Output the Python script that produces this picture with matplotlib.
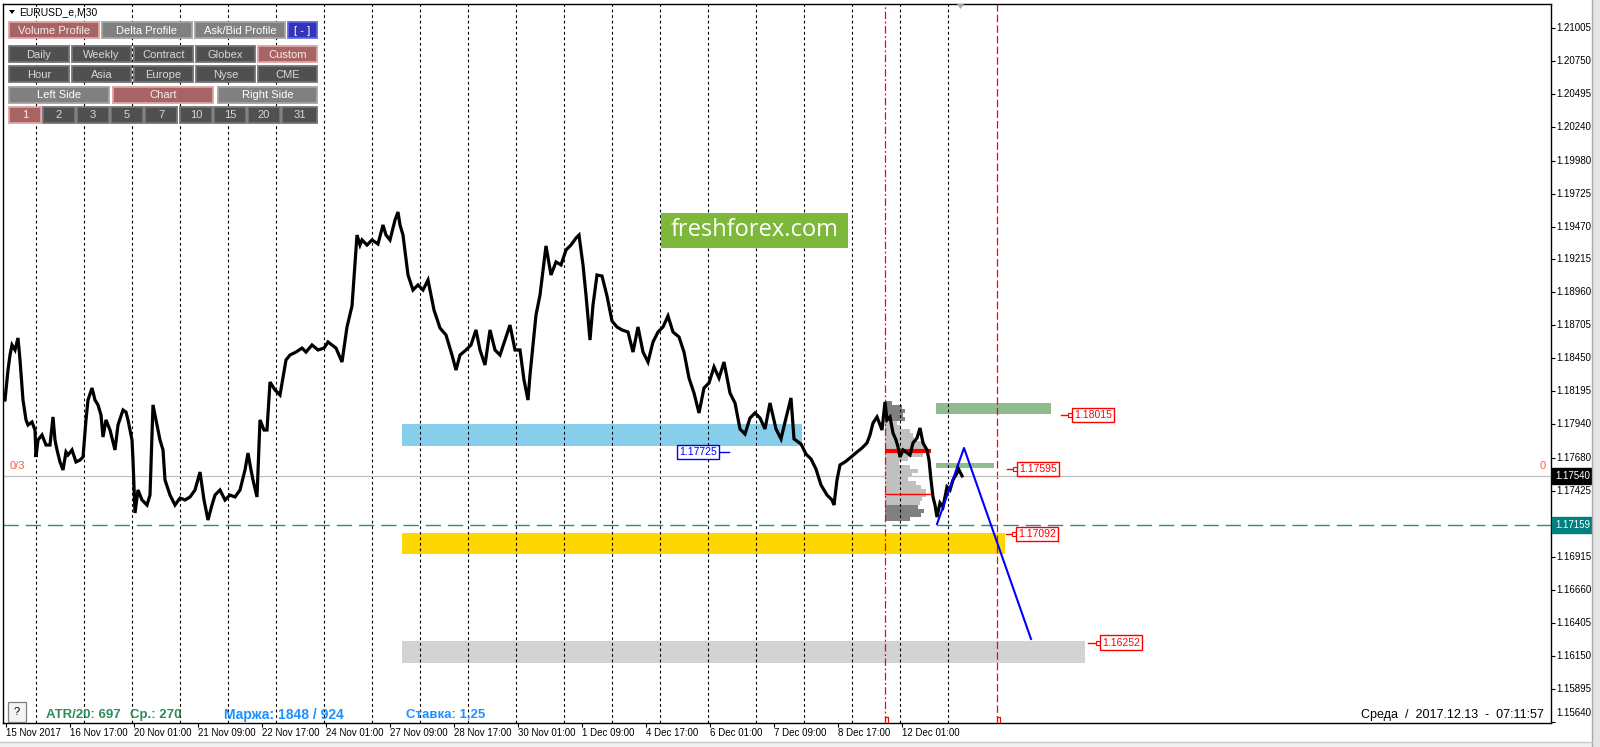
import matplotlib.pyplot as plt
from matplotlib.patches import Rectangle, Polygon

plt.rcParams.update({
    "font.family": ["Liberation Sans", "DejaVu Sans"],
    "font.size": 7,
})

W, H = 1600, 747
# chart box in pixels; one M30 bar per pixel column, so bar index == pixel x
CHART_L, CHART_R, CHART_T, CHART_B = 3, 1551, 4, 723
PRICE_TOP, PRICE_BOTTOM = 1.21191, 1.15630

# EURUSD M30 (bar, price)
PRICE_BAR = [
    5, 8, 10, 12, 15, 18, 20, 23, 26, 28, 32, 35, 36, 38, 42, 46, 50, 53, 55, 57,
    60, 63, 66, 68, 72, 76, 80, 83, 86, 88, 92, 95, 98, 101, 103, 106, 110, 115, 118, 123,
    126, 128, 132, 133, 135, 138, 142, 147, 150, 153, 156, 160, 163, 165, 170, 175, 180, 185, 190, 195,
    200, 204, 208, 212, 215, 220, 225, 230, 235, 240, 245, 248, 251, 253, 257, 260, 264, 267, 270, 275,
    280,
    286, 290, 296, 302, 306, 312, 318, 324, 328, 332, 336, 342, 347, 352, 357, 360, 362, 367, 372, 378,
    383, 386, 390, 395, 398, 400, 403, 408, 413, 418, 423, 428, 434, 440, 446, 452, 456, 460, 466, 471,
    476, 480, 485, 490, 495, 500, 505, 510, 515, 520, 524, 528, 530, 536, 540, 546, 551, 556, 561, 566,
    571, 576, 579, 583, 586, 590, 593, 597, 602, 607,
    612, 617, 622, 628, 633, 638, 643, 648, 653, 658, 663, 668, 673, 679, 684, 689, 694, 699, 704, 709,
    714, 719, 724, 730, 735, 740, 745, 750, 755, 760, 765, 770, 776, 781, 786, 791, 794, 801, 806, 811,
    816, 821, 827, 832, 834, 837,
    840, 845, 850, 857, 862, 867, 870, 873, 877, 880, 882, 885, 887, 890, 893, 896, 898, 900, 903, 906,
    910, 913, 917, 920, 923, 927, 929, 931, 933, 935, 937, 940, 943, 947, 950, 953, 957, 958, 962,
]
PRICE_CLOSE = [
    1.18128, 1.18360, 1.18476, 1.18554, 1.18515, 1.18608, 1.18438, 1.18128, 1.17974, 1.17935,
    1.17958, 1.17896, 1.17687, 1.17819, 1.17858, 1.17780, 1.17780, 1.17997, 1.17819, 1.17742,
    1.17649, 1.17587, 1.17726, 1.17703, 1.17742, 1.17649, 1.17664, 1.17687, 1.17974, 1.18128,
    1.18221, 1.18128, 1.18090, 1.18012, 1.17842, 1.17974, 1.17896, 1.17742, 1.17935, 1.18051,
    1.18035, 1.17974, 1.17819, 1.17664, 1.17254, 1.17432, 1.17355, 1.17316, 1.17393, 1.18090,
    1.17974, 1.17819, 1.17742, 1.17510, 1.17393, 1.17316, 1.17370, 1.17355, 1.17378, 1.17432,
    1.17571, 1.17355, 1.17200, 1.17316, 1.17393, 1.17432, 1.17355, 1.17393, 1.17378, 1.17432,
    1.17587, 1.17718, 1.17587, 1.17510, 1.17378, 1.17974, 1.17896, 1.17896, 1.18267, 1.18206,
    1.18167,
    1.18438, 1.18476, 1.18499, 1.18530, 1.18499, 1.18554, 1.18515, 1.18530, 1.18577, 1.18554,
    1.18530, 1.18422, 1.18693, 1.18855, 1.19404, 1.19327, 1.19366, 1.19327, 1.19366, 1.19335,
    1.19482, 1.19404, 1.19366, 1.19520, 1.19582, 1.19482, 1.19404, 1.19095, 1.18979, 1.19018,
    1.18979, 1.19056, 1.18824, 1.18685, 1.18631, 1.18476, 1.18360, 1.18476, 1.18515, 1.18554,
    1.18670, 1.18515, 1.18399, 1.18670, 1.18515, 1.18476, 1.18592, 1.18708, 1.18515, 1.18515,
    1.18283, 1.18128, 1.18322, 1.18786, 1.18940, 1.19320, 1.19095, 1.19196, 1.19173, 1.19288,
    1.19327, 1.19381, 1.19404, 1.19173, 1.18940, 1.18592, 1.18863, 1.19095, 1.19087, 1.18933,
    1.18739, 1.18693, 1.18670, 1.18654, 1.18499, 1.18693, 1.18499, 1.18422, 1.18577, 1.18654,
    1.18693, 1.18778, 1.18654, 1.18616, 1.18499, 1.18298, 1.18182, 1.18028, 1.18221, 1.18260,
    1.18384, 1.18298, 1.18422, 1.18182, 1.18105, 1.17904, 1.17865, 1.17989, 1.18028, 1.17989,
    1.17904, 1.18105, 1.17904, 1.17827, 1.17989, 1.18144, 1.17827, 1.17788, 1.17710, 1.17672,
    1.17594, 1.17471, 1.17393, 1.17355, 1.17316, 1.17510,
    1.17626, 1.17649, 1.17680, 1.17726, 1.17757, 1.17796, 1.17858, 1.17950, 1.17997, 1.17935,
    1.17896, 1.18113, 1.17974, 1.17997, 1.17873, 1.17819, 1.17765, 1.17687, 1.17742, 1.17726,
    1.17703, 1.17796, 1.17834, 1.17912, 1.17796, 1.17742, 1.17664, 1.17510, 1.17378, 1.17316,
    1.17223, 1.17332, 1.17301, 1.17456, 1.17432, 1.17510, 1.17564, 1.17603, 1.17541,
]

# period separators (midnight of each trading day)
DAY_SEP_BARS = [36, 84, 132, 180, 228, 276, 324, 372, 420, 468, 516, 564, 612, 660, 708,
                756, 804, 852, 900, 948]
# custom volume-profile range
RANGE_START, RANGE_END = 885, 997

TIME_TICK_BARS = [6, 70, 134, 198, 262, 326, 390, 454, 518, 582, 646, 710, 774, 838, 902]
TIME_TICK_LABELS = ["15 Nov 2017", "16 Nov 17:00", "20 Nov 01:00", "21 Nov 09:00", "22 Nov 17:00",
                    "24 Nov 01:00", "27 Nov 09:00", "28 Nov 17:00", "30 Nov 01:00", "1 Dec 09:00",
                    "4 Dec 17:00", "6 Dec 01:00", "7 Dec 09:00", "8 Dec 17:00", "12 Dec 01:00"]

PRICE_TICKS = [1.21005, 1.20750, 1.20495, 1.20240, 1.19980, 1.19725, 1.19470, 1.19215,
               1.18960, 1.18705, 1.18450, 1.18195, 1.17940, 1.17680, 1.17425, 1.16915,
               1.16660, 1.16405, 1.16150, 1.15895, 1.15640]

BID = 1.17540
LEVEL_LINE = 1.17159

# zones: (bar from, bar to, price top, price bottom, colour)
ZONES = [
    (402, 802, 1.17943, 1.17772, "#87CEEB"),
    (402, 1005, 1.17099, 1.16937, "#FFD700"),
    (402, 1085, 1.16264, 1.16094, "#D3D3D3"),
    (936, 1051, 1.18105, 1.18020, "#8FBC8F"),
    (936, 994, 1.17641, 1.17603, "#8FBC8F"),
]

# volume profile of the custom range
PROFILE_LEVELS = [1.18105, 1.18074, 1.18043, 1.18012, 1.17981, 1.17950, 1.17919, 1.17888,
                  1.17857, 1.17827, 1.17796, 1.17765, 1.17734, 1.17703, 1.17672, 1.17641,
                  1.17610, 1.17579, 1.17548, 1.17517, 1.17486, 1.17455, 1.17424, 1.17393,
                  1.17362, 1.17331, 1.17301, 1.17270, 1.17239, 1.17208]
PROFILE_VOL = [7, 17, 20, 18, 20, 12, 16, 25, 28, 29, 40, 41, 45, 38, 23, 14, 25, 33, 27, 23,
               31, 36, 41, 41, 37, 35, 33, 39, 36, 25]
VALUE_AREA = (1.17331, 1.17950)
POC = 1.17734
POC_END = 931
PROFILE_LINE = 1.17401

# blue forecast path
ZZ_BAR = [937, 964, 1031]
ZZ_PRICE = [1.17169, 1.17757, 1.16280]

# price labels: (value, line start bar, box left bar)
RED_LABELS = [(1.18015, 1061, 1072), (1.17595, 1007, 1017), (1.17092, 1006, 1016), (1.16252, 1088, 1100)]
BLUE_LABEL = (1.17725, 729, 719)


fig = plt.figure(figsize=(W / 100, H / 100), dpi=100)
fig.patch.set_facecolor("white")
ax = fig.add_axes([CHART_L / W, (H - CHART_B) / H, (CHART_R - CHART_L) / W, (CHART_B - CHART_T) / H])
ax.set_xlim(CHART_L, CHART_R)
ax.set_ylim(PRICE_BOTTOM, PRICE_TOP)
for s in ax.spines.values():
    s.set_color("black")
    s.set_linewidth(1)

for x0, x1, top, bot, col in ZONES:
    ax.add_patch(Rectangle((x0, bot), x1 - x0, top - bot, fc=col, ec="none", zorder=1))

prof_cols = ["#C0C0C0" if VALUE_AREA[0] <= lv <= VALUE_AREA[1] else "#808080" for lv in PROFILE_LEVELS]
ax.barh(PROFILE_LEVELS, PROFILE_VOL, left=RANGE_START, height=0.00026, color=prof_cols, zorder=1.5)

for b in DAY_SEP_BARS:
    ax.axvline(b, color="black", lw=0.8, ls=(0, (2.5, 2.5)), zorder=2)
ax.axvline(RANGE_START, color="red", lw=0.9, ls=(0, (6, 2, 1.5, 2)), zorder=2)
ax.axvline(RANGE_END, color="red", lw=0.9, ls=(0, (6, 2.5)), zorder=2)

ax.axhline(BID, color="#C0C0C0", lw=0.9, zorder=2)
ax.axhline(LEVEL_LINE, color="#2E8B8B", lw=1, ls=(0, (11, 5)), zorder=2)

ax.plot([RANGE_START, POC_END], [POC, POC], color="red", lw=3, solid_capstyle="butt", zorder=3)
ax.plot([RANGE_START, POC_END - 1], [PROFILE_LINE, PROFILE_LINE], color="red", lw=1, zorder=3)

ax.plot(PRICE_BAR, PRICE_CLOSE, color="black", lw=2.3, solid_joinstyle="miter", zorder=4)
ax.plot(ZZ_BAR, ZZ_PRICE, color="blue", lw=1.5, zorder=5)

for val, x_line, x_box in RED_LABELS:
    ax.plot([x_line, x_box], [val, val], color="red", lw=1, zorder=6)
    ax.plot([x_box - 2], [val], marker="s", ms=3, mfc="white", mec="red", mew=0.8, zorder=6)
    ax.text(x_box + 2, val, f"{val:.5f}", color="red", fontsize=7.5, ha="left", va="center", zorder=7,
            bbox=dict(boxstyle="square,pad=0.2", fc="white", ec="red", lw=1))
val, x_line, x_box = BLUE_LABEL
ax.plot([x_box, x_line], [val, val], color="blue", lw=1, zorder=6)
ax.text(x_box - 2, val, f"{val:.5f}", color="blue", fontsize=7.5, ha="right", va="center", zorder=7,
        bbox=dict(boxstyle="square,pad=0.2", fc="white", ec="blue", lw=1))

# axes ticks MT4 style
ax.yaxis.set_ticks_position("right")
ax.set_yticks(PRICE_TICKS)
ax.tick_params(axis="y", direction="out", length=3, width=0.8, labelright=False, labelleft=False)
ax.set_xticks(TIME_TICK_BARS)
ax.tick_params(axis="x", direction="out", length=3, width=0.8, labelbottom=False)
for i, v in enumerate(PRICE_TICKS):
    dy = 9 if i == len(PRICE_TICKS) - 1 else 0
    ax.annotate(f"{v:.5f}", xy=(1, v), xycoords=("axes fraction", "data"), xytext=(5, dy),
                textcoords="offset pixels", ha="left", va="center", fontsize=7)
for b, lab in zip(TIME_TICK_BARS, TIME_TICK_LABELS):
    ax.annotate(lab, xy=(b, 0), xycoords=("data", "axes fraction"), xytext=(0, -5),
                textcoords="offset pixels", ha="left", va="top", fontsize=7)

ax.annotate(f"{BID:.5f}", xy=(1, BID), xycoords=("axes fraction", "data"), xytext=(4, 0),
            textcoords="offset pixels", ha="left", va="center", fontsize=7, color="white", zorder=8,
            bbox=dict(boxstyle="square,pad=0.3", fc="black", ec="black"), annotation_clip=False)
ax.annotate(f"{LEVEL_LINE:.5f}", xy=(1, LEVEL_LINE), xycoords=("axes fraction", "data"), xytext=(4, 0),
            textcoords="offset pixels", ha="left", va="center", fontsize=7, color="white", zorder=8,
            bbox=dict(boxstyle="square,pad=0.3", fc="#008080", ec="#008080"), annotation_clip=False)

# overlay in pixel units for the terminal widgets
ui = fig.add_axes([0, 0, 1, 1], zorder=10)
ui.set_xlim(0, W)
ui.set_ylim(H, 0)
ui.axis("off")
ui.patch.set_alpha(0)

BUTTON_ROWS = [
    (22, 38, [("Volume Profile", 9, 99, "red"), ("Delta Profile", 102, 192, "gray"),
              ("Ask/Bid Profile", 195, 285, "gray"), ("[ - ]", 288, 317, "blue")]),
    (46, 62, [("Daily", 9, 69, "dark"), ("Weekly", 72, 131, "dark"), ("Contract", 134, 193, "dark"),
              ("Globex", 196, 255, "dark"), ("Custom", 258, 317, "red")]),
    (66, 82, [("Hour", 9, 69, "dark"), ("Asia", 72, 131, "dark"), ("Europe", 134, 193, "dark"),
              ("Nyse", 196, 255, "dark"), ("CME", 258, 317, "dark")]),
    (87, 103, [("Left Side", 9, 109, "gray"), ("Chart", 113, 213, "red"), ("Right Side", 218, 317, "gray")]),
    (107, 123, [("1", 9, 41, "red"), ("2", 43, 75, "dark"), ("3", 77, 109, "dark"), ("5", 111, 143, "dark"),
                ("7", 145, 177, "dark"), ("10", 180, 212, "dark"), ("15", 214, 246, "dark"),
                ("20", 248, 280, "dark"), ("31", 282, 317, "dark")]),
]
STYLES = {
    "red": ("#A86464", "#DDA4A4", "#F6ECEC"),
    "gray": ("#808080", "#A4A4A4", "#FFFFFF"),
    "dark": ("#505050", "#747474", "#D8D8D8"),
    "blue": ("#3434B8", "#6464E4", "#FFFFFF"),
}
for y0, y1, buttons in BUTTON_ROWS:
    for label, x0, x1, kind in buttons:
        fc, ec, tc = STYLES[kind]
        ui.add_patch(Rectangle((x0, y0), x1 - x0, y1 - y0, fc=fc, ec=ec, lw=1.3))
        ui.text((x0 + x1) / 2, (y0 + y1) / 2 + 0.5, label, ha="center", va="center",
                color=tc, fontsize=8)

ui.add_patch(Polygon([(9, 10), (15, 10), (12, 14)], closed=True, fc="black", ec="none"))
ui.text(19, 12, "EURUSD_e,M30", ha="left", va="center", fontsize=7.5)
ui.add_patch(Polygon([(957, 4), (964, 4), (960.5, 9)], closed=True, fc="#A8A8A8", ec="none"))

ui.add_patch(Rectangle((661, 213), 187, 35, fc="#7DB83A", ec="none"))
ui.text(754.5, 230.5, "freshforex.com", ha="center", va="center", color="white", fontsize=17,
        family=["Open Sans", "DejaVu Sans"])

ui.text(10, 466, "0/3", ha="left", va="center", color="#FF5A36", fontsize=8)
ui.text(1543, 466, "0", ha="center", va="center", color="#FF5A36", fontsize=8)

for xr in (RANGE_START, RANGE_END):
    ui.plot([xr, xr + 3, xr + 3], [717, 717, 722], color="red", lw=0.9)

ui.add_patch(Rectangle((8, 702), 18, 20, fc="#F4F4F4", ec="#808080", lw=0.9))
ui.text(17, 712, "?", ha="center", va="center", fontsize=8)
ui.text(46, 715, "ATR/20: 697", ha="left", va="center", color="#2E8B57", fontsize=9.5, fontweight="bold")
ui.text(130, 715, "Ср.: 270", ha="left", va="center", color="#2E8B57", fontsize=9.5, fontweight="bold")
ui.text(224, 715, "Маржа: 1848 / 924", ha="left", va="center", color="#1E90FF", fontsize=10,
        fontweight="bold")
ui.text(406, 715, "Ставка: 1,25", ha="left", va="center", color="#1E90FF", fontsize=9.5, fontweight="bold")
ui.text(1544, 715, "Среда  /  2017.12.13  -  07:11:57", ha="right", va="center", fontsize=9)

# terminal window frame
ui.add_patch(Rectangle((1592, 0), 8, H, fc="#E4E4E4", ec="none"))
ui.plot([1592, 1592], [0, H], color="#A8A8A8", lw=1)
ui.add_patch(Rectangle((0, 742), 1592, 5, fc="#F0F0F0", ec="none"))
ui.plot([0, 1592], [742, 742], color="#C8C8C8", lw=1)

fig.savefig("out.png", dpi=100)
